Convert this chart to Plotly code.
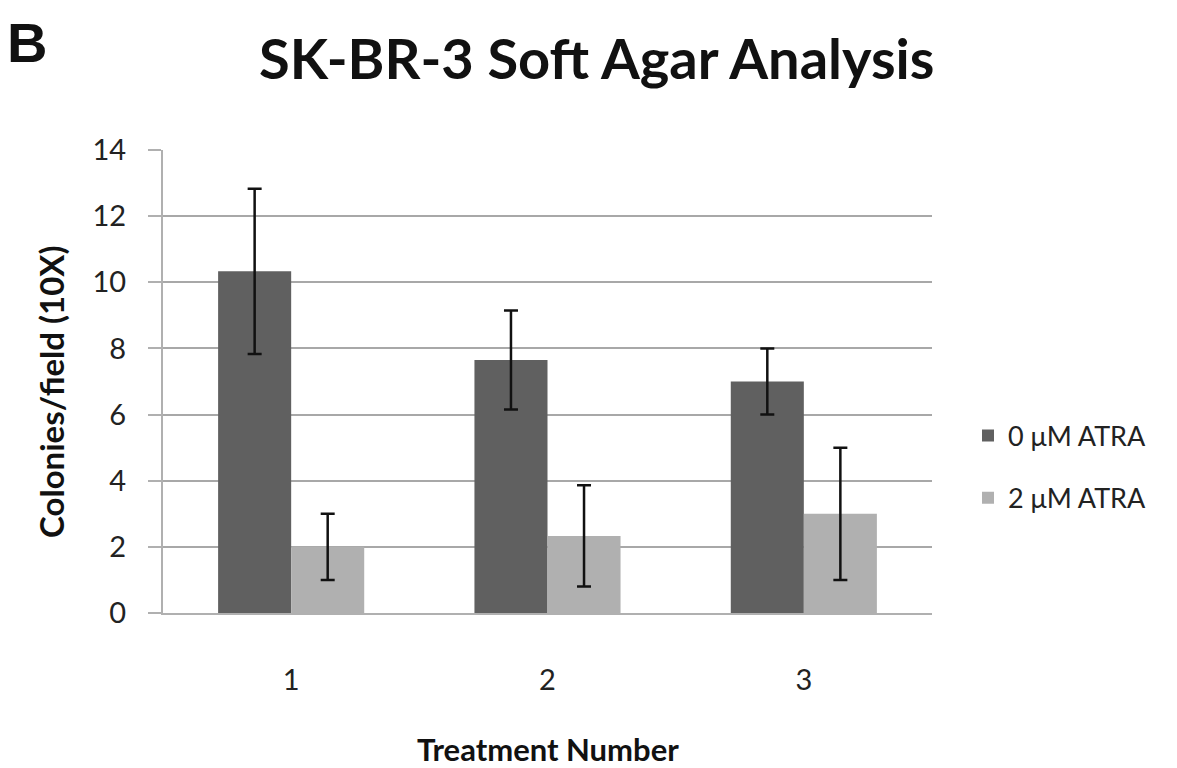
import plotly.graph_objects as go

categories = ["1", "2", "3"]
series_names = ["0 μM ATRA", "2 μM ATRA"]
values_0 = [10.33, 7.65, 7.0]
errors_0 = [2.5, 1.5, 1.0]
values_2 = [2.0, 2.33, 3.0]
errors_2 = [1.0, 1.53, 2.0]
y_ticks = [0, 2, 4, 6, 8, 10, 12, 14]

font_fam = "Lato, Open Sans, sans-serif"
OFF = 8  # page body margin
W, H = 1177, 768
# target plot area in screen pixels
PL, PR, PT, PB = 163, 932, 150, 613
l, t = PL - OFF, PT - OFF
r = W - (PR - OFF)
b = H - (PB - OFF)
pw, ph = W - l - r, H - t - b

def px2paper(x, y):
    return (x - OFF - l) / pw, (H - (y - OFF) - b) / ph

fig = go.Figure()
fig.add_trace(go.Bar(
    x=categories, y=values_0, name=series_names[0], legendgroup="a",
    marker=dict(color="#606060", line=dict(width=0)),
    error_y=dict(type="data", array=errors_0, color="#111111", thickness=2.5, width=7),
))
fig.add_trace(go.Bar(
    x=categories, y=values_2, name=series_names[1], legendgroup="b",
    marker=dict(color="#b0b0b0", line=dict(width=0)),
    error_y=dict(type="data", array=errors_2, color="#111111", thickness=2.5, width=7),
))

lx, ly = px2paper(968, 467)
fig.update_layout(
    width=W, height=H,
    margin=dict(l=l, r=r, t=t, b=b),
    paper_bgcolor="white", plot_bgcolor="white",
    barmode="group", bargap=0.43, bargroupgap=0,
    font=dict(family=font_fam, color="#222222"),
    legend=dict(x=lx, y=ly, xanchor="left", yanchor="middle",
                font=dict(size=27, color="#222222"), tracegroupgap=24,
                itemwidth=30),
    showlegend=True,
    xaxis=dict(showgrid=False, showline=True, linecolor="#b0b0b0", linewidth=2,
               tickfont=dict(size=29, color="#222222"), ticks="", ticklen=0,
               ticklabelstandoff=40),
    yaxis=dict(range=[0, 14], tickvals=y_ticks, showgrid=True, gridcolor="#a8a8a8",
               gridwidth=2, showline=True, linecolor="#b0b0b0", linewidth=2,
               ticks="outside", ticklen=13, tickcolor="#b0b0b0", tickwidth=2,
               tickfont=dict(size=29, color="#222222"), zeroline=False,
               ticklabelstandoff=16),
)

ann = [
    ("<b>B</b>", 5, 9, "left", "top", 0, 56, "Liberation Sans, Arial", "#111111"),
    ("<b>SK-BR-3 Soft Agar Analysis</b>", 596, 57, "center", "middle", 0, 56, font_fam, "#111111"),
    ("<b>Colonies/field (10X)</b>", 51, 392, "center", "middle", -90, 33, font_fam, "#111111"),
    ("<b>Treatment Number</b>", 548, 749, "center", "middle", 0, 31, font_fam, "#111111"),
]
for text, x, y, xa, ya, ang, size, fam, col in ann:
    ax, ay = px2paper(x, y)
    fig.add_annotation(text=text, x=ax, y=ay, xref="paper", yref="paper", showarrow=False,
                       xanchor=xa, yanchor=ya, textangle=ang,
                       font=dict(size=size, family=fam, color=col))

fig.write_html("out.html")
